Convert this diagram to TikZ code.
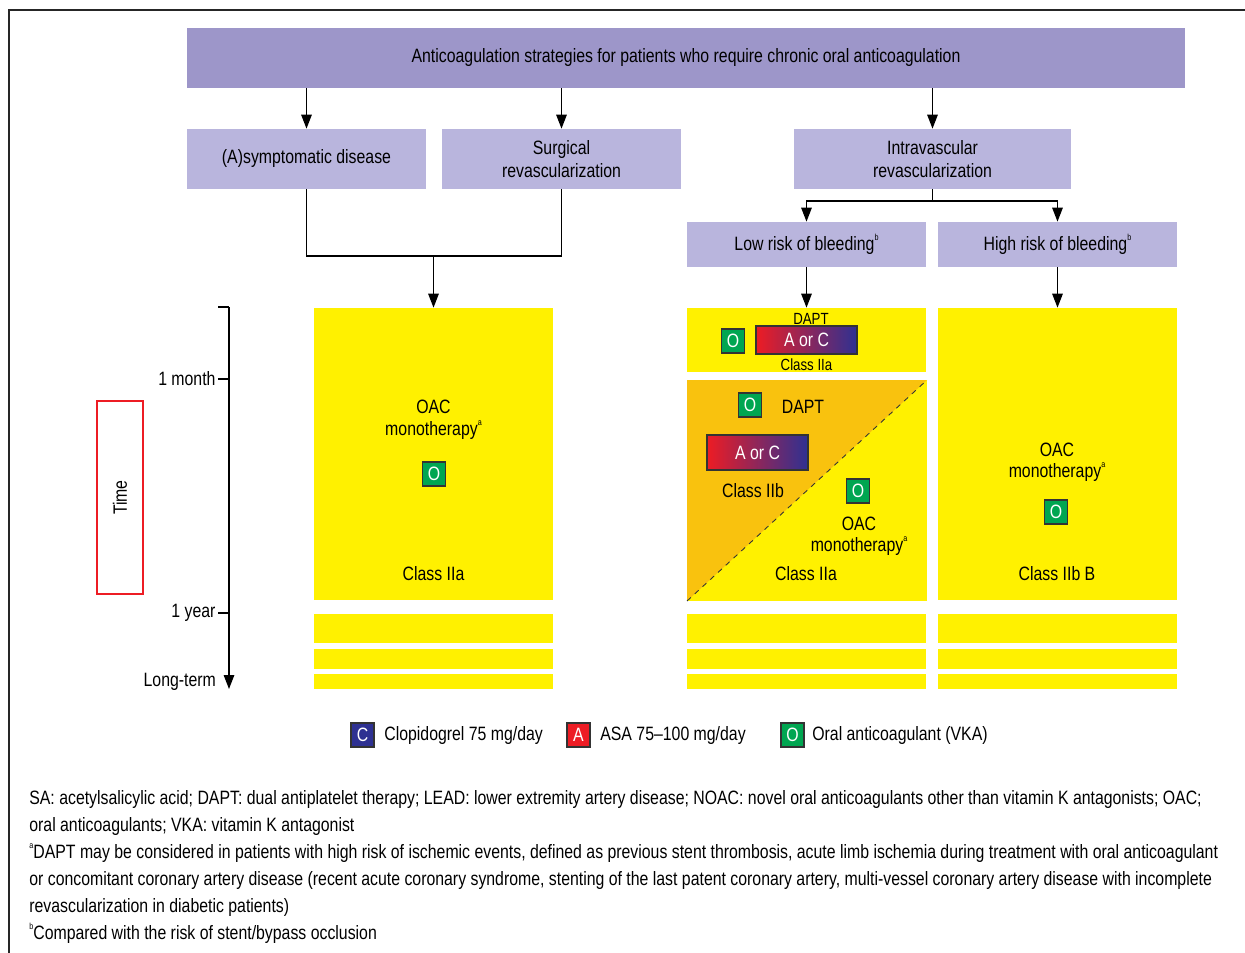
\documentclass[tikz,border=0pt]{standalone}
\usepackage{fontspec}
\setmainfont{Liberation Sans}[FakeStretch=0.82]
\usetikzlibrary{arrows.meta}

\definecolor{hdpurple}{HTML}{9D96C9}
\definecolor{subpurple}{HTML}{B9B5DD}
\definecolor{yel}{HTML}{FFF100}
\definecolor{amber}{HTML}{F9C20E}
\definecolor{oacgreen}{HTML}{00A651}
\definecolor{asared}{HTML}{ED1C24}
\definecolor{clopblue}{HTML}{2E3192}
\newcommand{\tinysup}[1]{\raisebox{0.95ex}{\fontsize{5}{5}\selectfont #1}}

\begin{document}
\begin{tikzpicture}[x=0.02cm, y=-0.02cm,
    font=\fontsize{11}{13}\selectfont,
    arr/.style={-{Triangle[length=2.8mm,width=2.1mm]}, line width=0.8pt},
    head/.style={fill=hdpurple, minimum width=19.96cm, minimum height=1.2cm},
    sub/.style={fill=subpurple, minimum width=4.78cm, minimum height=1.2cm, align=center},
    risk/.style={fill=subpurple, minimum width=4.78cm, minimum height=0.9cm},
    ybox/.style={fill=yel, minimum width=4.78cm, minimum height=5.84cm},
    drug/.style={draw=black!80, line width=0.6pt, text=white, minimum width=0.46cm, minimum height=0.48cm, inner sep=0pt},
    oac/.style={drug, fill=oacgreen},
    aorc/.style={draw=black!80, line width=0.6pt, text=white, left color=asared, right color=clopblue, minimum width=2.02cm},
    lbl/.style={inner sep=0pt},
    small/.style={inner sep=0pt, font=\fontsize{9.2}{11}\selectfont},
    note/.style={anchor=west, inner sep=0pt}]

    \useasboundingbox (0,0) rectangle (1245,953);
    \draw[line width=1pt, black!85] (1245,10) -- (9,10) -- (9,953);

    \node[head] (header) at (686,58) {Anticoagulation strategies for patients who require chronic oral anticoagulation};
    \node[sub] (asym) at (306.5,159) {(A)symptomatic disease};
    \node[sub] (surg) at (561.5,159) {Surgical\\revascularization};
    \node[sub, minimum width=5.54cm] (intra) at (932.5,159) {Intravascular\\revascularization};
    \node[risk] (low) at (806.5,244.5) {Low risk of bleeding\tinysup{b}};
    \node[risk] (high) at (1057.5,244.5) {High risk of bleeding\tinysup{b}};

    \draw[arr] (header.south -| asym) -- (asym);
    \draw[arr] (header.south -| surg) -- (surg);
    \draw[arr] (header.south -| intra) -- (intra);

    % yellow time blocks
    \node[ybox] (oacL) at (433.5,454) {};
    \node[ybox] (oacR) at (1057.5,454) {};
    \node[fill=yel, minimum width=4.78cm, minimum height=1.28cm] (daptTop) at (806.5,340) {};
    \fill[yel] (687,380) rectangle (927,601);
    \fill[amber] (687,380) -- (927,380) -- (687,601) -- cycle;
    \draw[dashed, line width=0.5pt, black!80] (687,601) -- (927,380);
    \foreach \cx in {314,687,938}
      \foreach \ya/\yb in {614/643,649/669,674/689}
        \fill[yel] (\cx,\ya) rectangle (\cx+239,\yb);

    \coordinate (joinL) at (433.5,256);
    \draw[line width=0.8pt] (asym.south) |- (joinL) -| (surg.south);
    \draw[arr] (joinL) -- (oacL.north);
    \coordinate (split) at (932.5,201);
    \draw[line width=0.8pt] (intra.south) -- (split);
    \draw[arr] (split) -| (low.north);
    \draw[arr] (split) -| (high.north);
    \draw[arr] (low.south) -- (daptTop.north);
    \draw[arr] (high.south) -- (oacR.north);

    \node[lbl] (oacLa) at (433.5,407) {OAC};
    \node[lbl] (oacLb) at (433.5,430) {monotherapy\tinysup{a}};
    \node[oac] (oL) at (434,474) {O};
    \node[lbl] (clL) at (433.5,574) {Class IIa};

    \node[small] (dT) at (811,319) {DAPT};
    \node[oac] (oT) at (733,341) {O};
    \node[aorc, minimum height=0.56cm] (acT) at (806.5,340) {A or C};
    \node[small] (clT) at (806.5,365) {Class IIa};

    \node[oac] (oM1) at (750,405) {O};
    \node[lbl] (dM) at (803,407) {DAPT};
    \node[aorc, minimum height=0.7cm] (acM) at (757.5,452.5) {A or C};
    \node[lbl] (clM1) at (753,491) {Class IIb};
    \node[oac] (oM2) at (858,491) {O};
    \node[lbl] (oacMa) at (859,524) {OAC};
    \node[lbl] (oacMb) at (859,546) {monotherapy\tinysup{a}};
    \node[lbl] (clM2) at (806,574) {Class IIa};

    \node[lbl] (oacRa) at (1057,450) {OAC};
    \node[lbl] (oacRb) at (1057,472) {monotherapy\tinysup{a}};
    \node[oac] (oR) at (1056,512) {O};
    \node[lbl] (clR) at (1057,574) {Class IIb B};

    % time axis
    \coordinate (tTop) at (229,307);
    \coordinate (tMonth) at (229,379);
    \coordinate (tYear) at (229,613);
    \coordinate (tEnd) at (229,689);
    \draw[arr] (tTop) -- (tEnd);
    \draw[line width=0.8pt] (tTop) -- ++(-11,0);
    \draw[line width=0.8pt] (tMonth) -- ++(-11,0) node[left, inner sep=1pt] (month) {1 month};
    \draw[line width=0.8pt] (tYear) -- ++(-11,0) node[left, inner sep=1pt] (year) {1 year};
    \node[anchor=east, inner sep=1pt] (longterm) at (218,682) {Long-term};
    \node[draw=asared, line width=0.6pt, rotate=90, minimum width=3.86cm, minimum height=0.92cm] (timebox) at (120,497.5) {Time};

    % legend
    \node[drug, fill=clopblue] (legC) at (362.5,735) {C};
    \node[note] (legCt) at (384,735) {Clopidogrel 75 mg/day};
    \node[drug, fill=asared] (legA) at (578.5,735) {A};
    \node[note] (legAt) at (600,735) {ASA 75--100 mg/day};
    \node[drug, fill=oacgreen] (legO) at (792.5,735) {O};
    \node[note] (legOt) at (812,735) {Oral anticoagulant (VKA)};

    \node[note] (n1) at (29,799) {SA: acetylsalicylic acid; DAPT: dual antiplatelet therapy; LEAD: lower extremity artery disease; NOAC: novel oral anticoagulants other than vitamin K antagonists; OAC;};
    \node[note] (n2) at (29,826) {oral anticoagulants; VKA: vitamin K antagonist};
    \node[note] (n3) at (29,853) {\tinysup{a}DAPT may be considered in patients with high risk of ischemic events, defined as previous stent thrombosis, acute limb ischemia during treatment with oral anticoagulant};
    \node[note] (n4) at (29,880) {or concomitant coronary artery disease (recent acute coronary syndrome, stenting of the last patent coronary artery, multi-vessel coronary artery disease with incomplete};
    \node[note] (n5) at (29,907) {revascularization in diabetic patients)};
    \node[note] (n6) at (29,933) {\tinysup{b}Compared with the risk of stent/bypass occlusion};
\end{tikzpicture}
\end{document}
